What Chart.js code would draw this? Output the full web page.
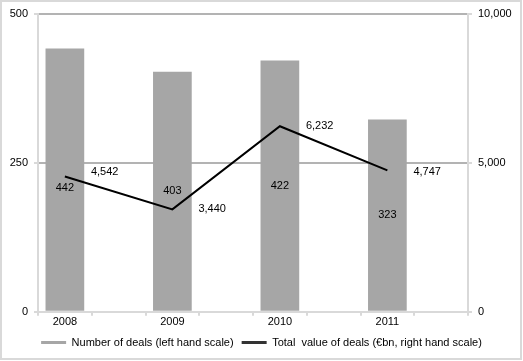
<!DOCTYPE html>
<html>
<head>
<meta charset="utf-8">
<script src="https://cdn.jsdelivr.net/npm/chart.js@4/dist/chart.umd.min.js"></script>
<style>
  html, body { margin: 0; padding: 0; background: #fff; }
  canvas { display: block; }
</style>
</head>
<body>
<canvas id="grafico" width="523" height="361"></canvas>
<script>
// categories (every other slot left empty, as in the original)
const years = ['2008', '', '2009', '', '2010', '', '2011', ''];
const deals = [442, null, 403, null, 422, null, 323, null];
const dealValues = [4542, null, 3440, null, 6232, null, 4747, null];

const leftTicks = [0, 250, 500];
const rightTicks = [0, 5000, 10000];

const fmt = v => Number(v).toLocaleString('en-US');
const font = { family: 'Liberation Sans, Arial, sans-serif', size: 11 };

// small nudges for the labels (px)
const barLabelShift = [8, 0, 0, 0, 0, 0, 0, 0];
const lineLabelShift = [-5, 0, 0, 0, 0, 0, 2, 0];

const frame = {
    id: 'frame',
    beforeDraw(chart) {
        const c = chart.ctx;
        c.save();
        c.fillStyle = '#fff';
        c.fillRect(0, 0, chart.width, chart.height);
        c.strokeStyle = '#d9d9d9';
        c.lineWidth = 2;
        c.strokeRect(1, 1, chart.width - 3, chart.height - 3);
        c.restore();
    }
};

const rotulos = {
    id: 'rotulos',
    afterDatasetsDraw(chart) {
        const c = chart.ctx;
        c.save();
        c.font = '11px ' + font.family;
        c.fillStyle = '#000';
        c.textBaseline = 'middle';

        chart.getDatasetMeta(0).data.forEach((bar, i) => {
            if (deals[i] == null) return;
            c.textAlign = 'center';
            c.fillText(fmt(deals[i]), bar.x, (bar.y + bar.base) / 2 + barLabelShift[i]);
        });

        chart.getDatasetMeta(1).data.forEach((pt, i) => {
            if (dealValues[i] == null) return;
            c.textAlign = 'left';
            c.fillText(fmt(dealValues[i]), pt.x + 26, pt.y + lineLabelShift[i]);
        });
        c.restore();
    }
};

const ctx = document.getElementById('grafico').getContext('2d');
const grafico = new Chart(ctx, {
    type: 'bar',
    data: {
        labels: years,
        datasets: [{
            label: 'Number of deals (left hand scale)',
            data: deals,
            backgroundColor: '#a6a6a6',
            barPercentage: 0.72,
            categoryPercentage: 1,
            yAxisID: 'y',
            order: 1
        }, {
            type: 'line',
            label: 'Total  value of deals (€bn, right hand scale)',
            data: dealValues,
            borderColor: '#000',
            backgroundColor: '#000',
            borderWidth: 2,
            pointRadius: 0,
            spanGaps: true,
            tension: 0,
            yAxisID: 'y1',
            order: 0
        }]
    },
    options: {
        responsive: false,
        animation: false,
        layout: { padding: { top: 14, left: 0, right: 0, bottom: 3 } },
        plugins: {
            tooltip: { enabled: false },
            legend: {
                position: 'bottom',
                labels: {
                    font: font,
                    color: '#000',
                    boxWidth: 25,
                    boxHeight: 3,
                    padding: 8,
                    generateLabels(chart) {
                        return chart.data.datasets.map((ds, i) => ({
                            text: ds.label,
                            fillStyle: i === 0 ? '#a6a6a6' : '#333',
                            strokeStyle: 'transparent',
                            lineWidth: 0,
                            fontColor: '#000',
                            datasetIndex: i
                        }));
                    }
                }
            }
        },
        scales: {
            x: {
                offset: true,
                grid: {
                    offset: true,
                    drawOnChartArea: false,
                    color: '#d9d9d9',
                    lineWidth: 2,
                    tickLength: 4
                },
                border: { color: '#d9d9d9', width: 2 },
                ticks: { font: font, color: '#000', autoSkip: false, maxRotation: 0, padding: 0 }
            },
            y: {
                position: 'left',
                min: 0,
                max: 500,
                afterBuildTicks: axis => { axis.ticks = leftTicks.map(v => ({ value: v })); },
                afterFit: axis => { axis.width = 38; },
                grid: {
                    color: c => c.tick && c.tick.value === 0 ? 'rgba(0,0,0,0)' : '#b3b3b3',
                    tickColor: '#d9d9d9',
                    lineWidth: 2,
                    tickLength: 4
                },
                border: { color: '#d9d9d9', width: 2 },
                ticks: { font: font, color: '#000', padding: 6, callback: v => fmt(v) }
            },
            y1: {
                position: 'right',
                min: 0,
                max: 10000,
                afterBuildTicks: axis => { axis.ticks = rightTicks.map(v => ({ value: v })); },
                afterFit: axis => { axis.width = 55; },
                grid: {
                    drawOnChartArea: false,
                    tickColor: '#d9d9d9',
                    lineWidth: 2,
                    tickLength: 4
                },
                border: { color: '#d9d9d9', width: 2 },
                ticks: { font: font, color: '#000', padding: 6, callback: v => fmt(v) }
            }
        }
    },
    plugins: [frame, rotulos]
});
</script>
</body>
</html>
